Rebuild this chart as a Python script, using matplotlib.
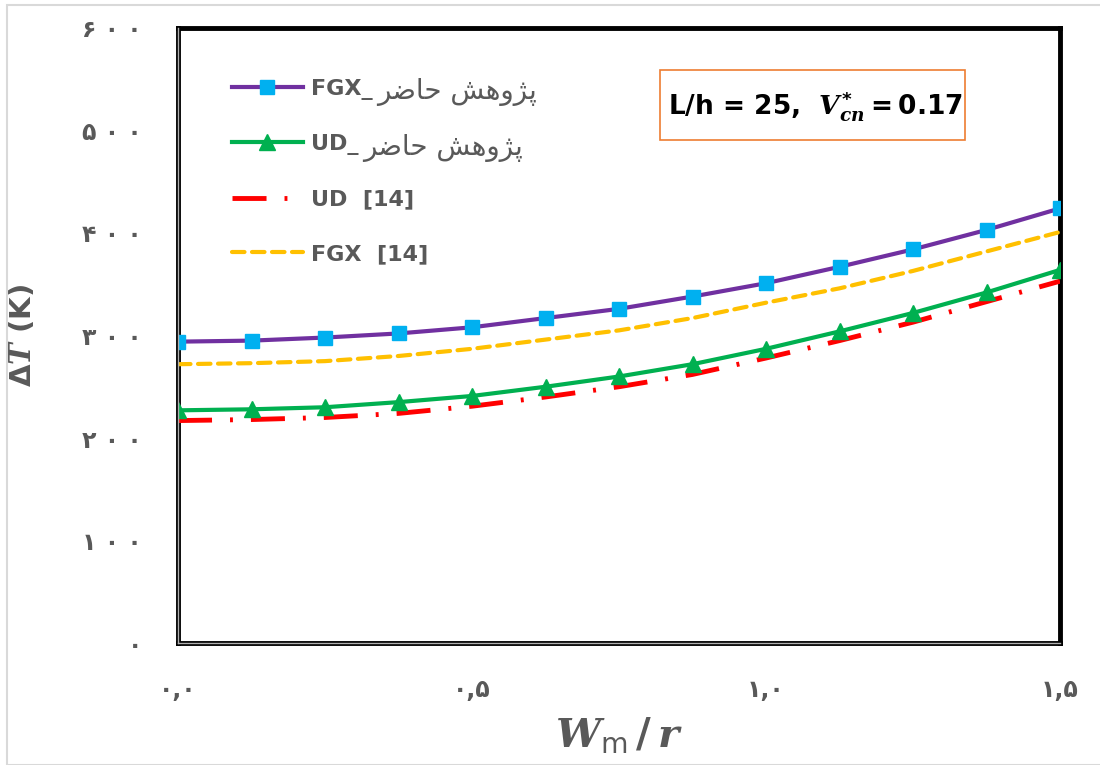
import numpy as np
import matplotlib.pyplot as plt
from matplotlib.lines import Line2D
from matplotlib.patches import Rectangle

plt.rcParams['mathtext.fontset'] = 'custom'
plt.rcParams['mathtext.it'] = 'DejaVu Serif:italic:bold'
plt.rcParams['mathtext.rm'] = 'DejaVu Sans:bold'
plt.rcParams['mathtext.sf'] = 'DejaVu Sans'

# Data
x = [0.0, 0.125, 0.25, 0.375, 0.5, 0.625, 0.75, 0.875, 1.0, 1.125, 1.25, 1.375, 1.5]
fgx_present = [294, 295, 298, 302, 308, 317, 326, 338, 351, 367, 384, 403, 424]
ud_present = [227, 228, 230, 235, 241, 250, 260, 272, 287, 304, 322, 342, 364]
ud_ref = [217, 218, 220, 224, 231, 240, 250, 262, 278, 295, 313, 333, 353]
fgx_ref = [272, 273, 275, 280, 287, 296, 305, 317, 332, 346, 363, 382, 401]

yticks = [0, 100, 200, 300, 400, 500, 600]
ytick_labels = ['۰', '۱ ۰ ۰', '۲ ۰ ۰', '۳ ۰ ۰', '۴ ۰ ۰', '۵ ۰ ۰', '۶ ۰ ۰']
xticks = [0.0, 0.5, 1.0, 1.5]
xtick_labels = ['۰,۰', '۰,۵', '۱,۰', '۱,۵']

# Persian "پژوهش حاضر" in shaped presentation forms, visual order
persian = '\uFEAE\uFEBF\uFE8E\uFEA3 \uFEB6\uFEEB\uFEED\uFB8B\uFB58'
labels = ['FGX_', 'UD_', 'UD  [14]', 'FGX  [14]']
persian_after = [persian, persian, None, None]

gray = '#595959'

fig = plt.figure(figsize=(11, 7.65), dpi=100)
ax = fig.add_axes([178 / 1100, 1 - 643 / 765, 882 / 1100, 615 / 765])

ax.plot(x, fgx_present, color='#7030A0', lw=3, marker='s', ms=10,
        mfc='#00B0F0', mec='#00B0F0', zorder=4)
ax.plot(x, ud_present, color='#00B050', lw=3, marker='^', ms=11,
        mfc='#00B050', mec='#00B050', zorder=4)
ax.plot(x, ud_ref, color='#FF0000', lw=3.5, dashes=(7, 3.7, 0.6, 3.7), zorder=3)
ax.plot(x, fgx_ref, color='#FFC000', lw=3, dashes=(3, 1.8), dash_capstyle='round', zorder=3)

ax.set_xlim(0, 1.5)
ax.set_ylim(0, 600)
ax.set_xticks(xticks)
ax.set_xticklabels(xtick_labels)
ax.set_yticks(yticks)
ax.set_yticklabels(ytick_labels)
ax.tick_params(length=0, labelsize=17, labelcolor=gray)
ax.tick_params(axis='y', pad=26)
ax.tick_params(axis='x', pad=25)
for t in ax.get_xticklabels() + ax.get_yticklabels():
    t.set_fontweight('bold')

for s in ax.spines.values():
    s.set_color('black')
    s.set_linewidth(3.5)
    s.set_capstyle('projecting')
# inner gray line for the double border look on left/bottom
ax.plot([0, 0], [0, 600], color='#b0b0b0', lw=1, clip_on=False, zorder=6)
ax.plot([0, 1.5], [0, 0], color='#b0b0b0', lw=1, clip_on=False, zorder=6)

ax.set_ylabel(r'$\Delta T$ (K)', fontsize=21, color=gray, fontweight='bold')
ax.yaxis.set_label_coords(-0.16, 0.5)
ax.set_xlabel(r'$W_{\mathsf{m}}\,/\,r$', fontsize=29, color=gray, labelpad=10)

handles = [
    Line2D([], [], color='#7030A0', lw=3, marker='s', ms=10, mfc='#00B0F0', mec='#00B0F0'),
    Line2D([], [], color='#00B050', lw=3, marker='^', ms=11, mfc='#00B050', mec='#00B050'),
    Line2D([], [], color='#FF0000', lw=3.5, dashes=(7, 3.7, 0.6, 3.7)),
    Line2D([], [], color='#FFC000', lw=3, dashes=(3, 1.8), dash_capstyle='round'),
]
leg = ax.legend(handles, labels, loc='upper left', bbox_to_anchor=(0.051, 0.932),
                borderaxespad=0, frameon=False, handlelength=3.2, handletextpad=0.35,
                labelspacing=1.55, prop={'size': 16, 'weight': 'bold'})
for t in leg.get_texts():
    t.set_color(gray)

# parameter box
ax.add_patch(Rectangle((0.5465, 0.818), 0.3455, 0.114, transform=ax.transAxes,
                       fc='white', ec='#ED7D31', lw=1.2, zorder=5))
ax.text(0.5556, 0.873, r'L/h = 25,  $V^{*}_{cn}=0.17$', transform=ax.transAxes,
        fontsize=19, fontweight='bold', color='black', va='center', ha='left', zorder=6)

fig.patches.append(Rectangle((7 / 1100, 0), 1, 1 - 5 / 765, transform=fig.transFigure,
                             fill=False, ec='#d9d9d9', lw=1.5))

# Persian part of the legend labels, in regular weight after the bold Latin part
fig.canvas.draw()
for t, extra in zip(leg.get_texts(), persian_after):
    if extra is None:
        continue
    bb = t.get_window_extent()
    fig.text(bb.x1 + 5, (bb.y0 + bb.y1) / 2 - 3, extra, transform=None,
             fontsize=20, color=gray, va='center', ha='left')

fig.savefig('out.png', dpi=100)
